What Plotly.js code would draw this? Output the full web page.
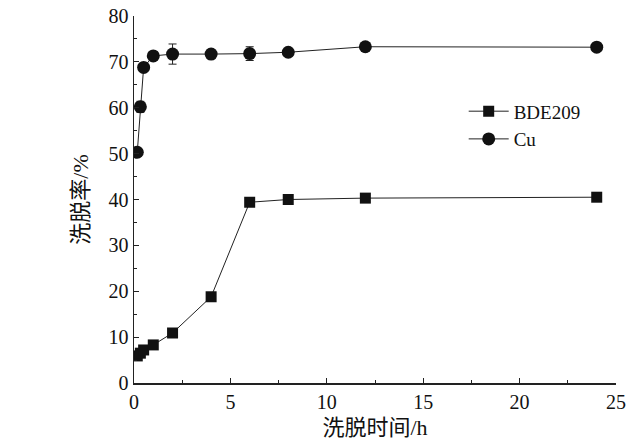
<!DOCTYPE html>
<html><head><meta charset="utf-8">
<script src="https://cdn.plot.ly/plotly-3.0.1.min.js"></script>
<style>html,body{margin:0;padding:0;background:#fff;}</style>
</head><body>
<div id="chart" style="width:637px;height:443px;"></div>
<script>
const timeH = [0.17, 0.33, 0.5, 1, 2, 4, 6, 8, 12, 24];
const bde209 = [5.9, 6.5, 7.2, 8.3, 10.9, 18.8, 39.4, 40.0, 40.3, 40.5];
const cu = [50.3, 60.2, 68.8, 71.3, 71.7, 71.7, 71.8, 72.1, 73.3, 73.2];
const cuErr = [0.8, 1.2, 0.5, 0.8, 2.2, 1.0, 1.5, 0.5, 0.5, 0.5];
const xTitle = '洗脱时间/h';
const yTitle = '洗脱率/%';

const serif = '"Liberation Serif", "Times New Roman", serif';
const cjk = '"Liberation Serif", "Noto Sans CJK SC", serif';

const traces = [
  {x: timeH, y: bde209, name: 'BDE209', mode: 'lines+markers', type: 'scatter', legendgroup: 'a',
   line: {color: '#222', width: 1}, marker: {symbol: 'square', size: 11, color: '#111'}},
  {x: timeH, y: cu, name: 'Cu', mode: 'lines+markers', type: 'scatter', legendgroup: 'b',
   error_y: {type: 'data', array: cuErr, visible: true, color: '#222', thickness: 1, width: 4},
   line: {color: '#222', width: 1}, marker: {symbol: 'circle', size: 13, color: '#111'}}
];

const axisCommon = {
  showline: true, linecolor: '#222', linewidth: 1.5, mirror: false,
  showgrid: false, zeroline: false, ticks: 'inside', ticklen: 5, tickwidth: 1, tickcolor: '#222',
  tickfont: {family: serif, size: 20, color: '#111'}
};

const layout = {
  width: 637, height: 443,
  margin: {l: 134, r: 21, t: 16, b: 60},
  paper_bgcolor: '#fff', plot_bgcolor: '#fff',
  showlegend: true,
  legend: {x: 0.684, y: 0.792, xanchor: 'left', yanchor: 'top', bgcolor: 'rgba(0,0,0,0)',
           traceorder: 'grouped', tracegroupgap: 0,
           font: {family: serif, size: 19, color: '#111'}, itemwidth: 40},
  xaxis: Object.assign({}, axisCommon, {
    range: [0, 25], dtick: 5, tick0: 0,
    minor: {ticks: 'inside', dtick: 2.5, ticklen: 3, tickcolor: '#222'},
    title: {text: xTitle, font: {family: cjk, size: 22, color: '#111'}, standoff: 8}
  }),
  yaxis: Object.assign({}, axisCommon, {
    range: [0, 80], dtick: 10, tick0: 0,
    minor: {ticks: 'inside', dtick: 5, ticklen: 3, tickcolor: '#222'},
    title: {text: yTitle, font: {family: cjk, size: 22, color: '#111'}, standoff: 14}
  })
};

Plotly.newPlot('chart', traces, layout, {displayModeBar: false, staticPlot: true});
</script>
</body></html>
